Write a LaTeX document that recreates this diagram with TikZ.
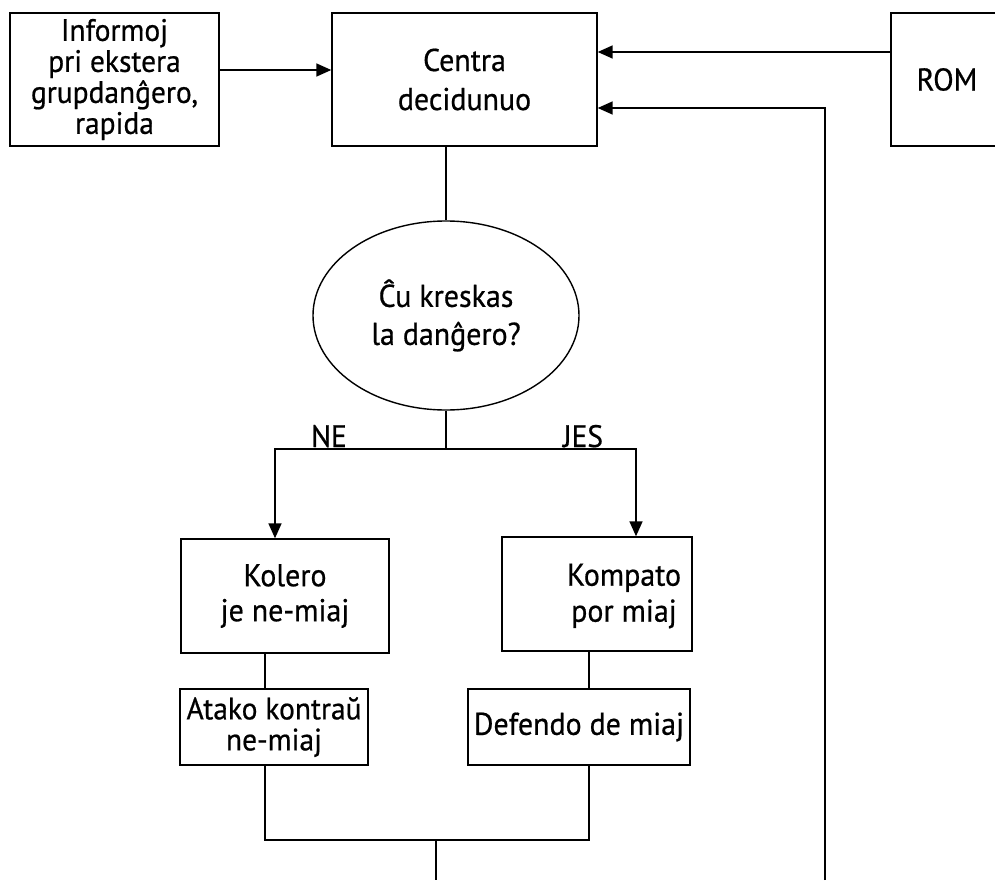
\documentclass[tikz,border=0pt]{standalone}
\usepackage{fontspec}
\setmainfont{PT Sans}[FakeStretch=0.95,FakeBold=0.6]
\usetikzlibrary{shapes.geometric,arrows.meta}
\begin{document}
\begin{tikzpicture}[x=1pt,y=-1pt,
  box/.style={draw,line width=1.4pt,rectangle,inner sep=0pt,align=center},
  ell/.style={draw,line width=1.4pt,ellipse,inner sep=0pt,align=center},
  txt/.style={inner sep=0pt,align=center},
  fs/.style={font=\fontsize{31.5}{#1}\selectfont},
  fsm/.style={font=\fontsize{31}{#1}\selectfont},
  lbl/.style={inner sep=0pt,anchor=base,font=\fontsize{31}{31}\selectfont},
  conn/.style={line width=1.6pt},
  arr/.style={line width=1.6pt,-{Triangle[length=15pt,width=13pt]}}]
\useasboundingbox[fill=white] (0,0) rectangle (995,880);
\clip (0,0) rectangle (995,880);
\node[box,fsm=31,minimum width=209pt,minimum height=133pt] (info) at (114.5,79.5) {Informoj\\pri ekstera\\grupdanĝero,\\rapida};
\node[box,fs=39,minimum width=265pt,minimum height=133pt] (centra) at (464.5,79.5) {Centra\\decidunuo};
\node[box,fs=31,minimum width=112pt,minimum height=133pt] (rom) at (947,79.5) {ROM};
\node[ell,fs=38,minimum width=266pt,minimum height=189pt] (q) at (446,315.5) {Ĉu kreskas\\la danĝero?};
\node[box,fs=35,minimum width=208pt,minimum height=114pt] (kolero) at (285,596) {Kolero\\je ne-miaj};
\node[box,minimum width=190pt,minimum height=114pt] (kompato) at (597,594) {};
\node[txt,fs=36] (kompatoT) at (624,596) {Kompato\\por miaj};
\node[box,fsm=31,minimum width=188pt,minimum height=76pt] (atako) at (274,727) {Atako kontraŭ\\ne-miaj};
\node[box,fs=31,minimum width=222pt,minimum height=76pt] (defendo) at (579,727) {Defendo de miaj};
\coordinate (split) at (446,449);
\coordinate (ne) at (275,449);
\coordinate (jes) at (636,449);
\coordinate (lx) at (265,840);
\coordinate (rx) at (589,840);
\coordinate (mid) at (436,840);
\coordinate (out) at (436,880);
\coordinate (fb) at (825,880);
\draw[arr] ([yshift=9.5pt]info.east) -- ([yshift=9.5pt]centra.west);
\draw[arr] ([yshift=27.5pt]rom.west) -- ([yshift=27.5pt]centra.east);
\draw[arr] (fb) |- ([yshift=-28.5pt]centra.east);
\draw[conn] (q.north |- centra.south) -- (q.north);
\draw[conn] (q.south) -- (split);
\draw[arr] (split) -- (ne) -- (ne |- kolero.north);
\draw[arr] (split) -- (jes) -- (jes |- kompato.north);
\node[lbl] (nel) at (329,447) {NE};
\node[lbl] (jesl) at (583,447) {JES};
\draw[conn] (kolero.south -| lx) -- (atako.north -| lx);
\draw[conn] (kompato.south -| rx) -- (defendo.north -| rx);
\draw[conn] (atako.south -| lx) -- (lx) -- (rx) -- (defendo.south -| rx);
\draw[conn] (mid) -- (out);
\end{tikzpicture}
\end{document}
